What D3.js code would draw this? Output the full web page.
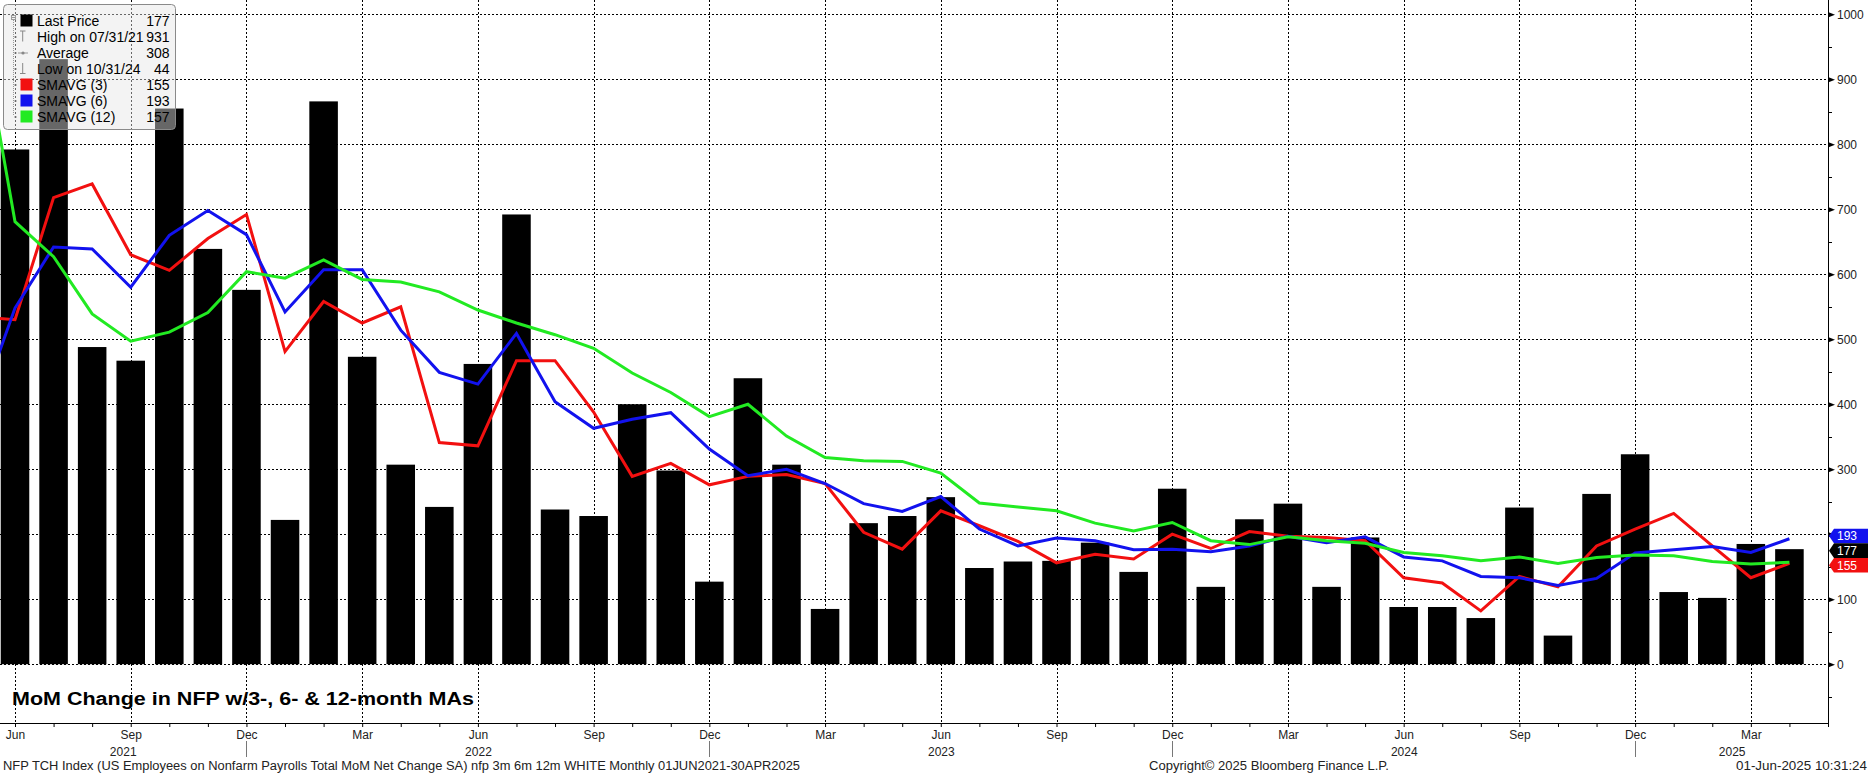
<!DOCTYPE html>
<html><head><meta charset="utf-8">
<script src="https://cdn.jsdelivr.net/npm/d3@7"></script>
<style>
html,body{margin:0;padding:0;background:#fff;}
svg{display:block;}
text{font-family:"Liberation Sans",Arial,sans-serif;}
</style></head><body>
<svg id="chart" width="1868" height="775"></svg>
<script>
// ---------------- DATA ----------------
const months = [
 "2021-06","2021-07","2021-08","2021-09","2021-10","2021-11","2021-12",
 "2022-01","2022-02","2022-03","2022-04","2022-05","2022-06","2022-07","2022-08","2022-09","2022-10","2022-11","2022-12",
 "2023-01","2023-02","2023-03","2023-04","2023-05","2023-06","2023-07","2023-08","2023-09","2023-10","2023-11","2023-12",
 "2024-01","2024-02","2024-03","2024-04","2024-05","2024-06","2024-07","2024-08","2024-09","2024-10","2024-11","2024-12",
 "2025-01","2025-02","2025-03","2025-04"];
// MoM change in NFP (thousands)
const nfpChange = [792,931,488,467,855,639,576,
 222,866,473,307,242,462,692,238,228,400,298,127,
 440,307,85,217,228,257,148,158,159,187,142,270,
 119,223,247,119,195,88,88,71,241,44,262,323,
 111,102,185,177];
// moving averages start one month earlier (segment clipped at the left edge)
const smaMonths = ["2021-05"].concat(months);
const sma3 = [535,530,718,739,630,606,655,692,
 481,558,525,550,341,336,467,467,388,289,309,276,
 289,292,278,203,177,236,213,189,156,169,162,200,
 178,204,197,195,190,133,125,82,135,119,182,208,
 232,182,133,155];
const sma6 = [381,548,642,639,580,660,698,661,
 542,607,607,514,449,431,509,404,363,377,387,331,
 290,300,278,247,235,258,208,182,194,190,176,177,
 173,182,197,187,196,165,159,135,133,121,132,171,
 176,181,172,193];
const sma12 = [1017,681,627,539,497,511,541,604,
 594,622,592,588,573,545,525,507,486,448,418,381,
 400,351,318,313,312,294,248,242,236,217,205,218,
 190,184,196,190,186,172,167,159,165,155,164,168,
 167,158,154,157];
const yTickValues = [0,100,200,300,400,500,600,700,800,900,1000];
const yMinorValues = [-50,50,150,250,350,450,550,650,750,850,950];
const seriesNames = ["Last Price","SMAVG (3)","SMAVG (6)","SMAVG (12)"];
const titleText = "MoM Change in NFP w/3-, 6- & 12-month MAs";
const footerLeft = "NFP TCH Index (US Employees on Nonfarm Payrolls Total MoM Net Change SA) nfp 3m 6m 12m WHITE  Monthly 01JUN2021-30APR2025";
const footerMid = "Copyright\u00A9 2025 Bloomberg Finance L.P.";
const footerRight = "01-Jun-2025 10:31:24";

// ---------------- SETUP ----------------
const W = 1868, H = 775;
const plotRight = 1828, axisY = 723;
const RED = "#f21010", BLUE = "#1212ee", GREEN = "#22ea22";
const svg = d3.select("#chart");
const parse = d3.timeParse("%Y-%m");
const monthDates = months.map(parse);

const x = d3.scaleLinear().domain([-0.389, 47.0]).range([0, plotRight]);
const y = d3.scaleLinear().domain([-90.5, 1022]).range([axisY, 0]);

svg.append("defs").append("clipPath").attr("id","plotClip")
  .append("rect").attr("x",0).attr("y",0).attr("width",plotRight).attr("height",axisY);

// grid
const grid = svg.append("g").attr("stroke","#000").attr("stroke-width",1).attr("stroke-dasharray","2,2");
grid.selectAll("line.h").data(yTickValues).join("line")
  .attr("x1",0).attr("x2",plotRight)
  .attr("y1",d=>Math.round(y(d))+0.5).attr("y2",d=>Math.round(y(d))+0.5);
const quarterIdx = d3.range(0, months.length, 3);
grid.selectAll("line.v").data(quarterIdx).join("line")
  .attr("y1",0).attr("y2",axisY)
  .attr("x1",d=>Math.round(x(d))+0.5).attr("x2",d=>Math.round(x(d))+0.5);

// title
svg.append("text").attr("x",12).attr("y",705)
  .attr("font-family","DejaVu Sans").attr("font-weight","bold").attr("font-size",17.5)
  .attr("textLength",462).attr("lengthAdjust","spacingAndGlyphs")
  .attr("fill","#000").text(titleText);

// bars
const bw = (x(1)-x(0))*0.74;
svg.append("g").selectAll("rect").data(nfpChange).join("rect")
  .attr("x",(d,i)=>x(i)-bw/2).attr("width",bw)
  .attr("y",d=>y(d)).attr("height",d=>y(0)-y(d))
  .attr("fill","#000");

// lines
const lineGen = d3.line().x((d,i)=>x(i-1)).y(d=>y(d));
const lg = svg.append("g").attr("clip-path","url(#plotClip)");
[[sma3,RED],[sma6,BLUE],[sma12,GREEN]].forEach(([arr,c])=>{
  lg.append("path").attr("d",lineGen(arr)).attr("fill","none")
    .attr("stroke",c).attr("stroke-width",3).attr("stroke-linejoin","miter");
});

// axes
const yAxis = d3.axisRight(y).tickValues(yTickValues).tickSize(0).tickPadding(9).tickFormat(d3.format("d"));
const ya = svg.append("g").attr("transform",`translate(${plotRight},0)`).call(yAxis);
ya.select(".domain").remove();
ya.selectAll("text").attr("font-size",12).attr("fill","#222").attr("font-family","Liberation Sans").attr("dy","0.34em");
ya.selectAll(".tick").append("path").attr("d","M0,-2.8L7,0L0,2.8Z").attr("fill","#000");
svg.append("line").attr("x1",plotRight+0.5).attr("x2",plotRight+0.5).attr("y1",0).attr("y2",727).attr("stroke","#000");
svg.append("g").selectAll("line").data(yMinorValues).join("line")
  .attr("x1",plotRight).attr("x2",plotRight+4)
  .attr("y1",d=>Math.round(y(d))+0.5).attr("y2",d=>Math.round(y(d))+0.5).attr("stroke","#000");

const fmtMon = d3.timeFormat("%b");
const xAxis = d3.axisBottom(x).tickValues(d3.range(0, months.length)).tickSize(4).tickPadding(3)
  .tickFormat(i => i%3===0 ? fmtMon(monthDates[i]) : "");
const xa = svg.append("g").attr("transform",`translate(0,${axisY})`).call(xAxis);
xa.select(".domain").attr("d",`M0,0.5H${plotRight}`).attr("stroke","#000");
xa.selectAll("text").attr("font-size",12).attr("fill","#222").attr("font-family","Liberation Sans");

// year labels & separators
const years = d3.groups(months.map((m,i)=>({y:m.slice(0,4),i})), d=>d.y);
const dom = x.domain();
svg.append("g").selectAll("text").data(years).join("text")
  .attr("x",([yr,arr])=>{
    const lo = Math.max(dom[0], arr[0].i-0.97);
    const last = d3.max(arr,d=>d.i);
    const hi = last===months.length-1 ? dom[1] : last;
    return x((lo+hi)/2);
  })
  .attr("y",756).attr("text-anchor","middle").attr("font-size",12).attr("fill","#222").text(([yr])=>yr);
const decIdx = months.map((m,i)=>m.endsWith("-12")?i:null).filter(v=>v!==null);
svg.append("g").selectAll("line").data(decIdx).join("line")
  .attr("x1",d=>Math.round(x(d))+0.5).attr("x2",d=>Math.round(x(d))+0.5)
  .attr("y1",741).attr("y2",757).attr("stroke","#777");

// right-side value tags
const lastVals = [
  {v: sma6[sma6.length-1], c: BLUE},
  {v: nfpChange[nfpChange.length-1], c: "#000"},
  {v: sma3[sma3.length-1], c: RED}];
const tagH = 14.6;
const mid = y(lastVals[1].v) + 1.5;
lastVals.forEach((d,k)=>{ d.cy = mid + (k-1)*tagH; });
const tg = svg.append("g");
lastVals.forEach(d=>{
  const c = d.cy, h = tagH/2;
  tg.append("path").attr("d",`M${plotRight+1},${c}L${plotRight+6},${c-h}H${W}V${c+h}H${plotRight+6}Z`).attr("fill",d.c);
  tg.append("text").attr("x",plotRight+9).attr("y",c).attr("dy","0.36em")
    .attr("font-size",12).attr("fill","#fff").text(d3.format("d")(d.v));
});

// legend
const fmtD = d3.timeFormat("%m/%d/%y");
const monthEnd = i => d3.timeDay.offset(d3.timeMonth.offset(monthDates[i],1),-1);
const iMax = d3.maxIndex(nfpChange), iMin = d3.minIndex(nfpChange);
const legendRows = [
  {icon:"sq", c:"#000", label: seriesNames[0], val: nfpChange[nfpChange.length-1]},
  {icon:"high", label:"High on "+fmtD(monthEnd(iMax)), val: nfpChange[iMax]},
  {icon:"avg", label:"Average", val: Math.round(d3.mean(nfpChange))},
  {icon:"low", label:"Low on "+fmtD(monthEnd(iMin)), val: nfpChange[iMin]},
  {icon:"sq", c:RED, label: seriesNames[1], val: sma3[sma3.length-1]},
  {icon:"sq", c:BLUE, label: seriesNames[2], val: sma6[sma6.length-1]},
  {icon:"sq", c:GREEN, label: seriesNames[3], val: sma12[sma12.length-1]}];
const leg = svg.append("g");
leg.append("rect").attr("x",3.5).attr("y",4.5).attr("width",172).attr("height",125).attr("rx",4)
  .attr("fill","#e4e4e4").attr("fill-opacity",0.45).attr("stroke","#8a8a8a");
// tree
leg.append("rect").attr("x",11.5).attr("y",15.5).attr("width",4).attr("height",4).attr("fill","none").attr("stroke","#999");
leg.append("line").attr("x1",12).attr("x2",15).attr("y1",17.5).attr("y2",17.5).attr("stroke","#999");
leg.append("line").attr("x1",13.5).attr("x2",13.5).attr("y1",20).attr("y2",116).attr("stroke","#999").attr("stroke-dasharray","1,1");
legendRows.forEach((r,k)=>{
  const cy = 20.5 + k*16;
  if(k>0) leg.append("line").attr("x1",14).attr("x2",18).attr("y1",cy+0.5).attr("y2",cy+0.5).attr("stroke","#999").attr("stroke-dasharray","1,1");
  if(r.icon==="sq") leg.append("rect").attr("x",20.5).attr("y",cy-6).attr("width",12).attr("height",12).attr("fill",r.c);
  if(r.icon==="high"){
    leg.append("path").attr("d",`M20,${cy-5.5}H25.5M22.7,${cy-5.5}V${cy+5}`).attr("stroke","#888").attr("fill","none");
  }
  if(r.icon==="avg"){
    leg.append("path").attr("d",`M18,${cy+0.5}H28`).attr("stroke","#999");
    leg.append("circle").attr("cx",23).attr("cy",cy+0.5).attr("r",1.6).attr("fill","#888");
  }
  if(r.icon==="low"){
    leg.append("path").attr("d",`M22.7,${cy-5.5}V${cy+5}M20,${cy+5}H25.5`).attr("stroke","#888").attr("fill","none");
  }
  leg.append("text").attr("x",37).attr("y",cy+5).attr("font-size",14).attr("fill","#000").text(r.label);
  leg.append("text").attr("x",169.5).attr("y",cy+5).attr("font-size",14).attr("fill","#000").attr("text-anchor","end").text(r.val);
});

// footer
svg.append("text").attr("x",3).attr("y",770).attr("font-size",12).attr("fill","#222")
  .attr("textLength",797).attr("lengthAdjust","spacingAndGlyphs").text(footerLeft);
svg.append("text").attr("x",1149).attr("y",770).attr("font-size",12).attr("fill","#222")
  .attr("textLength",240).attr("lengthAdjust","spacingAndGlyphs").text(footerMid);
svg.append("text").attr("x",1736).attr("y",770).attr("font-size",12).attr("fill","#222")
  .attr("textLength",131).attr("lengthAdjust","spacingAndGlyphs").text(footerRight);
</script>
</body></html>
